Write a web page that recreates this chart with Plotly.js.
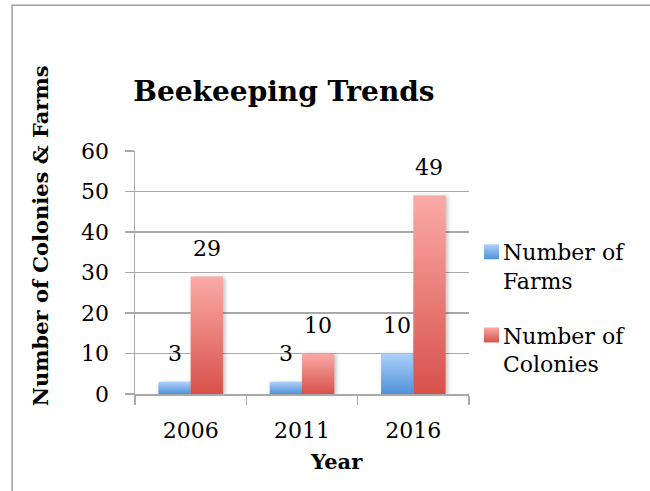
<!DOCTYPE html>
<html>
<head>
<meta charset="utf-8">
<script src="https://cdn.plot.ly/plotly-3.0.1.min.js"></script>
<style>
  html, body { margin: 0; padding: 0; background: #fff; }
  #chart { width: 650px; height: 491px; }
</style>
</head>
<body>
<div id="chart"></div>
<script>
// Beekeeping survey counts per census year
const years = ['2006', '2011', '2016'];
const farms = [3, 3, 10];
const colonies = [29, 10, 49];
const seriesNames = ['Number of<br>Farms', 'Number of<br>Colonies'];

const FONT = 'DejaVu Serif, Liberation Serif, serif';
const GRID = '#a9a9a9';

// bar offset from category centre (category width * (1 - bargap) / 4)
const BARGAP = 0.42;
const PLOT_W = 334;
const catW = PLOT_W / years.length;
const barShift = catW * (1 - BARGAP) / 4;

const traces = [
  { type: 'bar', x: years, y: farms, name: seriesNames[0],
    marker: { color: '#7fb0ea' }, legendgroup: 'a', hoverinfo: 'skip' },
  { type: 'bar', x: years, y: colonies, name: seriesNames[1],
    marker: { color: '#ea7d77' }, legendgroup: 'b', hoverinfo: 'skip' }
];

// value labels above each bar (x given as category index)
const labels = [];
[farms, colonies].forEach((vals, s) => {
  vals.forEach((v, i) => {
    labels.push({
      xref: 'x', yref: 'y', x: i, y: v,
      text: String(v), showarrow: false,
      xanchor: 'center', yanchor: 'middle',
      xshift: s === 0 ? -barShift : barShift, yshift: 28,
      font: { family: FONT, size: 22, color: '#000' }
    });
  });
});

// axis titles placed as free text
labels.push({
  xref: 'paper', yref: 'paper', x: -0.284, y: 0.650,
  text: 'Number of Colonies & Farms', textangle: -90, showarrow: false,
  xanchor: 'center', yanchor: 'middle',
  font: { family: FONT, size: 21, color: '#000', weight: 'bold' }
});
labels.push({
  xref: 'paper', yref: 'paper', x: 0.602, y: -0.276,
  text: 'Year', showarrow: false,
  xanchor: 'center', yanchor: 'middle',
  font: { family: FONT, size: 21, color: '#000', weight: 'bold' }
});

const layout = {
  width: 650, height: 491,
  margin: { l: 135, r: 181, t: 151, b: 97 },
  paper_bgcolor: '#fff', plot_bgcolor: '#fff',
  barmode: 'group', bargap: BARGAP, bargroupgap: 0,
  title: {
    text: 'Beekeeping Trends', xref: 'paper', x: 0.446, xanchor: 'center',
    yref: 'container', y: 0.815, yanchor: 'middle',
    font: { family: FONT, size: 28, color: '#000', weight: 'bold' }
  },
  xaxis: {
    type: 'category', range: [-0.5, years.length - 0.5], autorange: false,
    tickson: 'boundaries', ticks: 'outside', ticklen: 9, tickangle: 0,
    tickcolor: GRID, tickwidth: 1.5, showline: true, linecolor: GRID, linewidth: 1.5,
    showgrid: false, tickfont: { family: FONT, size: 22, color: '#000' },
    ticklabelstandoff: 16, fixedrange: true
  },
  yaxis: {
    range: [0, 60], autorange: false, dtick: 10, ticks: 'outside', ticklen: 9,
    tickcolor: GRID, tickwidth: 1.5, showline: true, linecolor: GRID, linewidth: 1.5,
    showgrid: true, gridcolor: GRID, gridwidth: 1.5, zeroline: false,
    tickfont: { family: FONT, size: 22, color: '#000' },
    ticklabelstandoff: 11, fixedrange: true
  },
  legend: {
    x: 0.982, xanchor: 'left', y: 0.671, yanchor: 'top',
    valign: 'top', tracegroupgap: 23, itemwidth: 30,
    font: { family: FONT, size: 22, color: '#000' },
    bgcolor: 'rgba(0,0,0,0)'
  },
  annotations: labels,
  shapes: [{
    type: 'rect', xref: 'paper', yref: 'paper', layer: 'below',
    x0: -0.368, x1: 3, y0: -3, y1: 1.6,
    line: { color: '#a0a0a0', width: 1.5 }, fillcolor: 'rgba(0,0,0,0)'
  }],
  showlegend: true
};

// vertical light-to-dark fills for bars and legend swatches
function applyGradients(gd) {
  const svg = gd.querySelector('svg.main-svg');
  const ns = 'http://www.w3.org/2000/svg';
  let defs = svg.querySelector('defs');
  const stops = {
    gradFarms: ['#aed0fb', '#5092d8'],
    gradColonies: ['#fbaaa7', '#d8514a']
  };
  Object.keys(stops).forEach(id => {
    if (svg.querySelector('#' + id)) return;
    const g = document.createElementNS(ns, 'linearGradient');
    g.setAttribute('id', id);
    g.setAttribute('x1', '0'); g.setAttribute('y1', '0');
    g.setAttribute('x2', '0'); g.setAttribute('y2', '1');
    stops[id].forEach((c, k) => {
      const s = document.createElementNS(ns, 'stop');
      s.setAttribute('offset', k === 0 ? '0' : '1');
      s.setAttribute('stop-color', c);
      g.appendChild(s);
    });
    defs.appendChild(g);
  });
  const ids = ['gradFarms', 'gradColonies'];
  gd.querySelectorAll('.barlayer .trace.bars').forEach((tr, i) => {
    tr.querySelectorAll('.point path').forEach(p => {
      p.style.fill = 'url(#' + ids[i] + ')';
      p.style.filter = 'drop-shadow(2px 1px 2px rgba(0,0,0,0.25))';
    });
  });
  gd.querySelectorAll('.legend .traces').forEach((tr, i) => {
    tr.querySelectorAll('.legendpoints path').forEach(p => {
      p.style.fill = 'url(#' + ids[i] + ')';
      p.style.stroke = 'none';
      p.setAttribute('d', 'M16,7.5H1V-7.5H16Z');
    });
  });
}

Plotly.newPlot('chart', traces, layout, { staticPlot: true, displayModeBar: false })
  .then(gd => applyGradients(gd));
</script>
</body>
</html>
